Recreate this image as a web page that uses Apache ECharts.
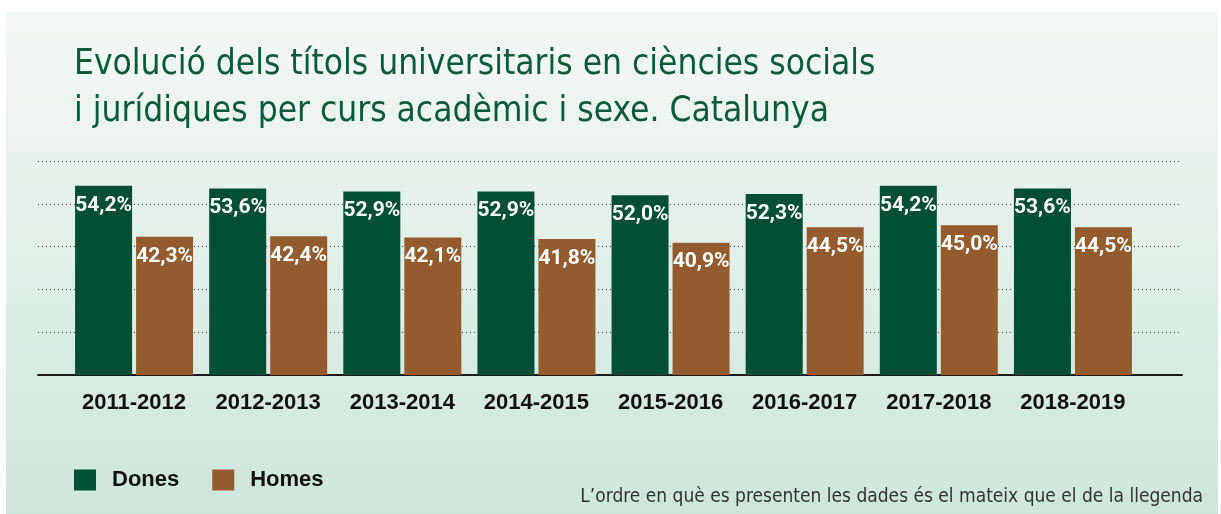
<!DOCTYPE html>
<html>
<head>
<meta charset="utf-8">
<script src="https://cdn.jsdelivr.net/npm/echarts@6/dist/echarts.min.js"></script>
<style>
  html, body { margin: 0; padding: 0; background: #ffffff; }
  #chart { width: 1221px; height: 514px; }
</style>
</head>
<body>
<div id="chart"></div>
<script>
"use strict";

// ---- data ----
const courses = ["2011-2012", "2012-2013", "2013-2014", "2014-2015", "2015-2016", "2016-2017", "2017-2018", "2018-2019"];
const dones = [54.2, 53.6, 52.9, 52.9, 52.0, 52.3, 54.2, 53.6];
const homes = [42.3, 42.4, 42.1, 41.8, 40.9, 44.5, 45.0, 44.5];
const seriesNames = ["Dones", "Homes"];
const titleLines = [
    "Evolució dels títols universitaris en ciències socials",
    "i jurídiques per curs acadèmic i sexe. Catalunya"
];
const footnote = "L\u2019ordre en què es presenten les dades és el mateix que el de la llegenda";

const Theme = {
    dones: "#034f36",
    homes: "#945c2e",
    title: "#0c5a3c",
    text: "#111111",
    note: "#333333",
    condensed: "'DejaVu Sans Condensed', 'DejaVu Sans', sans-serif",
    label: "Roboto, 'Liberation Sans', sans-serif",
    sans: "'Liberation Sans', Arial, sans-serif"
};

function pct(v){
    return v.toFixed(1).replace(".", ",") + "%";
}

function barSeries(name, data, color){
    return {
        name,
        type: "bar",
        xAxisIndex: 1,
        yAxisIndex: 1,
        data,
        barWidth: 57,
        barGap: "7%",
        itemStyle: { color },
        label: {
            show: true,
            position: "insideTop",
            distance: 9,
            color: "#ffffff",
            fontFamily: Theme.label,
            fontWeight: "bold",
            fontSize: 21,
            formatter: p => pct(p.value)
        }
    };
}

const chart = echarts.init(document.getElementById("chart"), null, { renderer: "canvas" });

chart.setOption({
    animation: false,
    backgroundColor: "#ffffff",
    graphic: [
        {
            type: "rect",
            left: 6, top: 12, z: -10,
            shape: { width: 1212, height: 502 },
            style: {
                fill: new echarts.graphic.LinearGradient(0, 0, 0, 1, [
                    { offset: 0, color: "#f4f8f6" },
                    { offset: 1, color: "#cde6dc" }
                ])
            }
        },
        {
            type: "text",
            right: 18, top: 488,
            style: {
                text: footnote,
                fill: Theme.note,
                font: "19px " + Theme.condensed
            }
        }
    ],
    title: {
        text: titleLines.join("\n"),
        left: 74,
        top: 41,
        padding: 0,
        textStyle: {
            color: Theme.title,
            fontFamily: Theme.condensed,
            fontWeight: "normal",
            fontSize: 35,
            lineHeight: 47
        }
    },
    legend: {
        left: 74,
        top: 469,
        padding: 0,
        itemWidth: 22,
        itemHeight: 21,
        itemGap: 33,
        icon: "rect",
        data: seriesNames,
        textStyle: {
            color: Theme.text,
            fontFamily: Theme.sans,
            fontWeight: "bold",
            fontSize: 22,
            padding: [0, 0, 0, 11]
        }
    },
    grid: [
        { left: 38, right: 39, top: 161, bottom: 139 },
        { left: 67, right: 81, top: 161, bottom: 139 }
    ],
    xAxis: [
        {
            gridIndex: 0,
            type: "category",
            data: courses,
            axisLine: { lineStyle: { color: "#1a1a1a", width: 2 } },
            axisTick: { show: false },
            axisLabel: { show: false }
        },
        {
            gridIndex: 1,
            type: "category",
            data: courses,
            axisLine: { show: false },
            axisTick: { show: false },
            axisLabel: {
                interval: 0,
                margin: 17,
                color: Theme.text,
                fontFamily: Theme.sans,
                fontWeight: "bold",
                fontSize: 22
            }
        }
    ],
    yAxis: [
        {
            gridIndex: 0,
            type: "value",
            min: 10, max: 60, interval: 10,
            axisLine: { show: false },
            axisTick: { show: false },
            axisLabel: { show: false },
            splitLine: { lineStyle: { color: "#3a3a3a", type: [1, 3], width: 1 } }
        },
        {
            gridIndex: 1,
            type: "value",
            min: 10, max: 60, interval: 10,
            show: false
        }
    ],
    series: [
        barSeries(seriesNames[0], dones, Theme.dones),
        barSeries(seriesNames[1], homes, Theme.homes)
    ]
});

window.addEventListener("resize", () => chart.resize());
</script>
</body>
</html>
